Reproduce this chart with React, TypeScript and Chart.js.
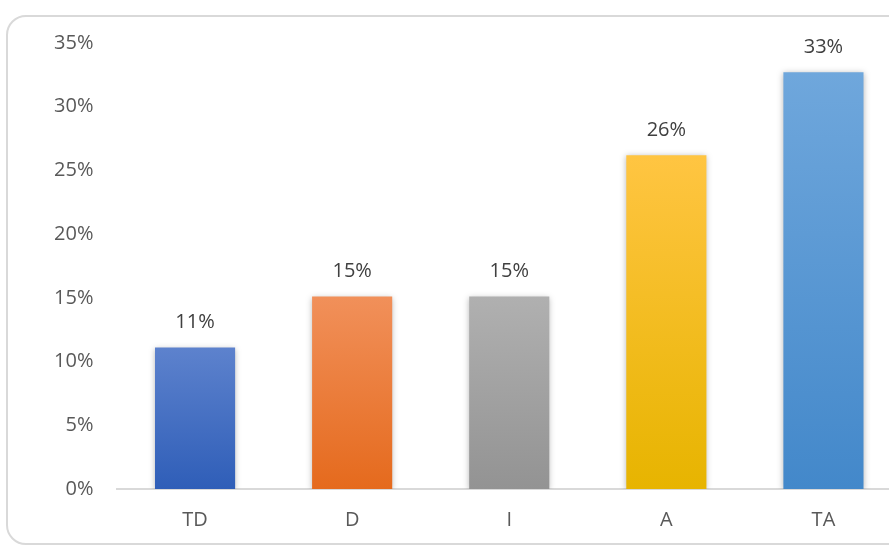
import React, { useEffect, useRef } from "react";
import { Chart, registerables } from "chart.js";

Chart.register(...registerables);

const categories = ["TD", "D", "I", "A", "TA"];
const values = [11.1, 15.1, 15.1, 26.2, 32.7];
const valueLabels = ["11%", "15%", "15%", "26%", "33%"];
const topColors = ["#5d82cd", "#f1905a", "#b0b0b0", "#ffc542", "#6fa7dc"];
const bottomColors = ["#2f5eb8", "#e56a1d", "#939393", "#e7b400", "#4388ca"];
const yTicks = [0, 5, 10, 15, 20, 25, 30, 35];

const FONT = "'Open Sans', 'Noto Sans', sans-serif";

const shadowPlugin = {
  id: "barShadow",
  beforeDatasetDraw(chart: any) {
    const ctx = chart.ctx;
    ctx.save();
    ctx.shadowColor = "rgba(0,0,0,0.28)";
    ctx.shadowBlur = 6;
    ctx.shadowOffsetX = 0;
    ctx.shadowOffsetY = 1;
  },
  afterDatasetDraw(chart: any) {
    chart.ctx.restore();
  },
};

const labelPlugin = {
  id: "valueLabels",
  afterDatasetsDraw(chart: any) {
    const ctx = chart.ctx;
    const meta = chart.getDatasetMeta(0);
    ctx.save();
    ctx.font = `20px ${FONT}`;
    ctx.fillStyle = "#404040";
    ctx.textAlign = "center";
    ctx.textBaseline = "middle";
    meta.data.forEach((el: any, i: number) => {
      ctx.fillText(valueLabels[i], el.x, el.y - 25);
    });
    ctx.restore();
  },
};

export default function App() {
  const ref = useRef<HTMLCanvasElement>(null);
  useEffect(() => {
    if (!ref.current) return;
    const chart = new Chart(ref.current, {
      type: "bar",
      data: {
        labels: categories,
        datasets: [
          {
            data: values,
            backgroundColor: (c: any) => {
              const ch = c.chart;
              const y = ch.scales && ch.scales.y;
              const i = c.dataIndex;
              if (!y || i === undefined || !ch.chartArea) return topColors[i || 0];
              const top = y.getPixelForValue(values[i]);
              const bot = y.getPixelForValue(0);
              const g = ch.ctx.createLinearGradient(0, top, 0, bot);
              g.addColorStop(0, topColors[i]);
              g.addColorStop(1, bottomColors[i]);
              return g;
            },
            borderWidth: 0,
            categoryPercentage: 1,
            barPercentage: 0.51,
          },
        ],
      },
      options: {
        animation: false,
        responsive: false,
        maintainAspectRatio: false,
        layout: { padding: { top: 43, left: 0, right: 0, bottom: 0 } },
        plugins: { legend: { display: false }, tooltip: { enabled: false } },
        scales: {
          x: {
            grid: { display: false, drawTicks: false },
            border: { display: true, color: "#d9d9d9", width: 2 },
            ticks: {
              color: "#595959",
              font: { size: 20, family: FONT },
              padding: 19,
            },
            afterFit: (s: any) => {
              s.height = 56;
            },
          },
          y: {
            min: 0,
            max: 35,
            afterBuildTicks: (s: any) => {
              s.ticks = yTicks.map((v) => ({ value: v }));
            },
            grid: { display: false, drawTicks: false },
            border: { display: false },
            ticks: {
              color: "#595959",
              font: { size: 20, family: FONT },
              padding: 23,
              callback: (v: any) => `${v}%`,
            },
            afterFit: (s: any) => {
              s.width = 116.5;
            },
          },
        },
      },
      plugins: [shadowPlugin, labelPlugin],
    });
    return () => chart.destroy();
  }, []);

  return (
    <div
      style={{
        position: "fixed",
        left: 0,
        top: 0,
        width: 889,
        height: 545,
        overflow: "hidden",
        background: "#ffffff",
      }}
    >
      <div
        style={{
          position: "absolute",
          left: 6,
          top: 15,
          width: 900,
          height: 526,
          border: "2px solid #d9d9d9",
          borderRadius: 20,
          boxSizing: "content-box",
        }}
      />
      <canvas
        ref={ref}
        width={902}
        height={545}
        style={{ position: "absolute", left: 0, top: 0, width: 902, height: 545 }}
      />
    </div>
  );
}
